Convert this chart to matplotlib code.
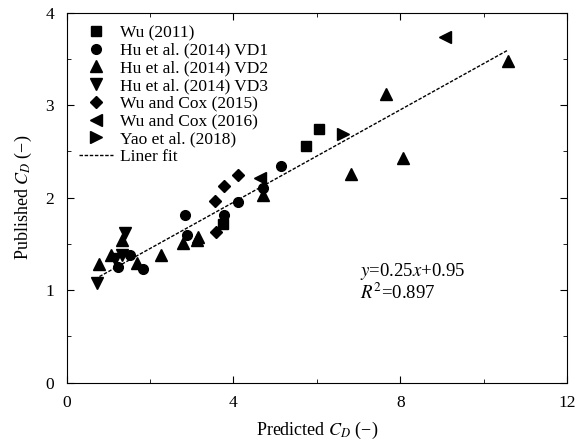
import numpy as np
import matplotlib
matplotlib.use('Agg')
import matplotlib.pyplot as plt

plt.rcParams['font.family'] = 'Liberation Serif'
plt.rcParams['mathtext.fontset'] = 'stix'
plt.rcParams['font.size'] = 12.5

# data (predicted, published)
wu2011_x = [5.74, 6.05, 3.76]
wu2011_y = [2.56, 2.74, 1.72]

vd1_x = [5.14, 4.72, 4.12, 3.78, 2.84, 2.88, 1.84, 1.52, 1.24]
vd1_y = [2.34, 2.10, 1.95, 1.81, 1.81, 1.60, 1.23, 1.38, 1.25]

vd2_x = [10.59, 7.66, 8.07, 6.81, 4.72, 3.13, 2.80, 3.16, 2.26, 1.68, 1.32, 0.78, 1.06]
vd2_y = [3.48, 3.12, 2.43, 2.26, 2.03, 1.54, 1.51, 1.57, 1.38, 1.29, 1.54, 1.28, 1.38]

vd3_x = [1.40, 0.72, 1.16, 1.32]
vd3_y = [1.62, 1.08, 1.34, 1.38]

wc2015_x = [4.10, 3.78, 3.57, 3.58]
wc2015_y = [2.24, 2.13, 1.96, 1.63]

wc2016_x = [9.07, 4.64]
wc2016_y = [3.74, 2.21]

yao_x = [6.62]
yao_y = [2.69]

# linear fit shown in the figure
slope = 0.25
intercept = 0.95
fit_x = [0.68, 10.59]

fig = plt.figure(figsize=(5.84, 4.46), dpi=100)
ax = fig.add_axes([0.114, 0.142, 0.857, 0.8295])

ax.plot(wu2011_x, wu2011_y, 's', color='black', ms=6.5, label='Wu (2011)')
ax.plot(vd1_x, vd1_y, 'o', color='black', ms=7, label='Hu et al. (2014) VD1')
ax.plot(vd2_x, vd2_y, '^', color='black', ms=9, label='Hu et al. (2014) VD2')
ax.plot(vd3_x, vd3_y, 'v', color='black', ms=9, label='Hu et al. (2014) VD3')
ax.plot(wc2015_x, wc2015_y, 'D', color='black', ms=6.2, label='Wu and Cox (2015)')
ax.plot(wc2016_x, wc2016_y, '<', color='black', ms=9, label='Wu and Cox (2016)')
ax.plot(yao_x, yao_y, '>', color='black', ms=9, label='Yao et al. (2018)')

fx = np.array(fit_x)
ax.plot(fx, slope * fx + intercept, '--', color='black', lw=1, dashes=(2.5, 1.2), label='Liner fit')

ax.text(7.03, 1.20, '$y$=0.25$x$+0.95', fontsize=13.5, va='center')
ax.text(7.03, 0.97, '$R^2$=0.897', fontsize=13.5, va='center')

ax.set_xlim(0, 12)
ax.set_ylim(0, 4)
ax.set_xticks([0, 4, 8, 12])
ax.set_yticks([0, 1, 2, 3, 4])
ax.set_xticks([2, 6, 10], minor=True)
ax.set_yticks([0.5, 1.5, 2.5, 3.5], minor=True)
ax.tick_params(which='both', direction='in', top=True, right=True)
ax.tick_params(which='major', length=5, pad=9)
ax.tick_params(which='minor', length=3)

ax.set_xlabel('Predicted $C_D$ (\u2212)', fontsize=13, labelpad=6)
ax.set_ylabel('Published $C_D$ (\u2212)', fontsize=13, labelpad=8)

ax.legend(loc='upper left', frameon=False, handlelength=2.0, handletextpad=0.35,
          labelspacing=0.09, borderaxespad=0.3, fontsize=12.5)

fig.savefig('out.png', dpi=100)
